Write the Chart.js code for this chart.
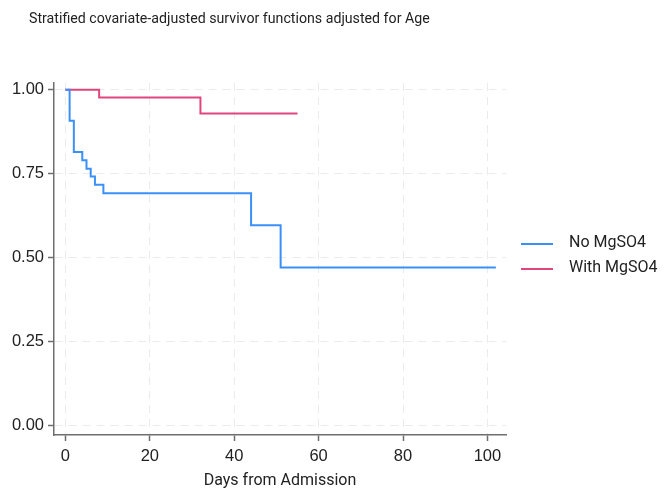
<!DOCTYPE html>
<html>
<head>
<meta charset="utf-8">
<script src="https://cdn.jsdelivr.net/npm/chart.js@4.4.1/dist/chart.umd.min.js"></script>
<style>
  html, body { margin: 0; padding: 0; background: #fff; }
  #wrap { position: relative; width: 670px; height: 491px; }
</style>
</head>
<body>
<div id="wrap"><canvas id="grafico" width="670" height="491"></canvas></div>
<script>
/* curvas de sobrevida ajustadas */
const TITULO = "Stratified covariate-adjusted survivor functions adjusted for Age";
const EIXO_X = "Days from Admission";

const diasSemMg = [0, 1, 2, 4, 5, 6, 7, 9, 44, 51, 102];
const survSemMg = [1.0, 0.908, 0.815, 0.79, 0.765, 0.742, 0.717, 0.692, 0.597, 0.471, 0.471];

const diasComMg = [0, 8, 32, 55];
const survComMg = [1.0, 0.977, 0.929, 0.929];

const seriesNomes = ["No MgSO4", "With MgSO4"];
const xTicks = [0, 20, 40, 60, 80, 100];
const yTicks = [0, 0.25, 0.5, 0.75, 1];

const AZUL = "#3b90f8";
const ROSA = "#e0457c";
const FONTE = "'Liberation Sans', Arial, sans-serif";

function pontos(xs, ys) {
  return xs.map((x, i) => ({ x, y: ys[i] }));
}

/* título e legenda desenhados à mão */
const extras = {
  id: "extras",
  afterDraw(chart) {
    const ctx = chart.ctx;
    ctx.save();
    ctx.fillStyle = "#222";
    ctx.font = "14.2px Roboto, sans-serif";
    ctx.textBaseline = "middle";
    ctx.textAlign = "left";
    ctx.fillText(TITULO, 29, 19);

    ctx.font = "16px Roboto, sans-serif";
    chart.data.datasets.forEach((ds, i) => {
      const y = 244 + i * 25;
      ctx.strokeStyle = ds.borderColor;
      ctx.lineWidth = 2;
      ctx.beginPath();
      ctx.moveTo(521, y);
      ctx.lineTo(553, y);
      ctx.stroke();
      ctx.fillStyle = "#222";
      ctx.fillText(ds.label, 569, y - 1);
    });
    ctx.restore();
  }
};

const gradeComum = {
  color: "#ebebeb",
  lineWidth: 1,
  borderDash: [8, 6],
  tickColor: "#6e6e6e",
  tickWidth: 1.5,
  drawTicks: true
};

const ctx = document.getElementById("grafico").getContext("2d");
new Chart(ctx, {
  type: "line",
  data: {
    datasets: [
      {
        label: seriesNomes[0],
        data: pontos(diasSemMg, survSemMg),
        borderColor: AZUL,
        borderWidth: 2,
        stepped: "before",
        pointRadius: 0,
        fill: false
      },
      {
        label: seriesNomes[1],
        data: pontos(diasComMg, survComMg),
        borderColor: ROSA,
        borderWidth: 2,
        stepped: "before",
        pointRadius: 0,
        fill: false
      }
    ]
  },
  options: {
    responsive: false,
    animation: false,
    layout: { padding: { top: 83, right: 164, left: 0, bottom: 0 } },
    plugins: {
      legend: { display: false },
      title: { display: false },
      tooltip: { enabled: false }
    },
    scales: {
      x: {
        type: "linear",
        min: -2.7,
        max: 104.4,
        afterBuildTicks: s => { s.ticks = xTicks.map(v => ({ value: v })); },
        afterFit: s => { s.height = 56; },
        grid: { ...gradeComum, tickLength: 6 },
        border: { display: true, color: "#6e6e6e", width: 1.5, dash: [8, 6] },
        ticks: {
          color: "#222",
          font: { family: FONTE, size: 16.5 },
          padding: 6,
          maxRotation: 0,
          callback: v => String(v)
        },
        title: {
          display: true,
          text: EIXO_X,
          color: "#222",
          font: { family: "Roboto, sans-serif", size: 16 },
          padding: { top: 4, bottom: 0 }
        }
      },
      y: {
        type: "linear",
        min: -0.027,
        max: 1.02,
        afterBuildTicks: s => { s.ticks = yTicks.map(v => ({ value: v })); },
        afterFit: s => { s.width = 54; },
        grid: { ...gradeComum, tickLength: 6 },
        border: { display: true, color: "#6e6e6e", width: 1.5, dash: [8, 6] },
        ticks: {
          color: "#222",
          font: { family: FONTE, size: 16.5 },
          padding: 4,
          callback: v => v.toFixed(2)
        }
      }
    }
  },
  plugins: [extras]
});
</script>
</body>
</html>
